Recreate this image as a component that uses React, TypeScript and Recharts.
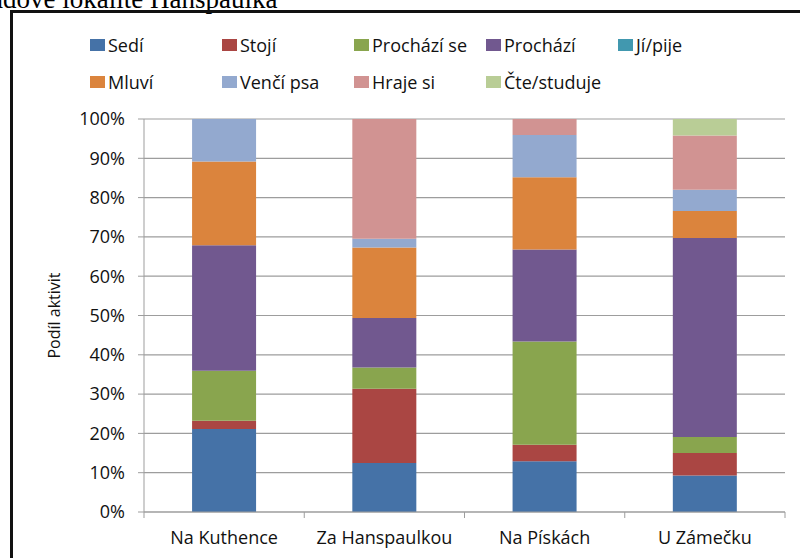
import { Bar, BarChart, CartesianGrid, Label, Legend, XAxis, YAxis } from "recharts";

const categories = ["Na Kuthence", "Za Hanspaulkou", "Na Pískách", "U Zámečku"];

// podíl jednotlivých aktivit v %
const sedi = [21.1, 12.5, 12.9, 9.3];
const stoji = [2.1, 18.9, 4.2, 5.7];
const prochaziSe = [12.7, 5.4, 26.3, 4.1];
const prochazi = [31.9, 12.6, 23.4, 50.6];
const jiPije = [0, 0, 0, 0];
const mluvi = [21.3, 18.0, 18.4, 6.9];
const venciPsa = [10.8, 2.2, 10.7, 5.4];
const hrajeSi = [0, 30.5, 4.1, 13.8];
const cteStuduje = [0, 0, 0, 4.2];

const yTicks = [0, 0.1, 0.2, 0.3, 0.4, 0.5, 0.6, 0.7, 0.8, 0.9, 1];

const series = [
  { key: "sedi", name: "Sedí", values: sedi, color: "#4572A7" },
  { key: "stoji", name: "Stojí", values: stoji, color: "#AA4643" },
  { key: "prochaziSe", name: "Prochází se", values: prochaziSe, color: "#89A54E" },
  { key: "prochazi", name: "Prochází", values: prochazi, color: "#71588F" },
  { key: "jiPije", name: "Jí/pije", values: jiPije, color: "#4198AF" },
  { key: "mluvi", name: "Mluví", values: mluvi, color: "#DB843D" },
  { key: "venciPsa", name: "Venčí psa", values: venciPsa, color: "#93A9CF" },
  { key: "hrajeSi", name: "Hraje si", values: hrajeSi, color: "#D19392" },
  { key: "cteStuduje", name: "Čte/studuje", values: cteStuduje, color: "#B9CD96" },
];

const data = categories.map((name, i) => {
  const row: Record<string, string | number> = { name };
  series.forEach((s) => {
    row[s.key] = s.values[i];
  });
  return row;
});

const FONT = "'Open Sans', sans-serif";
const GRID = "#9d9d9d";
const TICK_SIZE = 6;
const TICK_MARGIN = 13;

// legenda ve dvou řádcích po pěti položkách, v pořadí řad
const LegendGrid = () => (
  <div style={{ position: "relative", width: 800, height: 100, fontFamily: FONT, fontSize: 18 }}>
    {series.map((s, i) => (
      <div
        key={s.key}
        style={{
          position: "absolute",
          left: 90 + (i % 5) * 132,
          top: 33 + Math.floor(i / 5) * 37,
          height: 24,
          display: "flex",
          alignItems: "center",
          whiteSpace: "nowrap",
          color: "#111",
        }}
      >
        <span style={{ display: "inline-block", width: 15, height: 12, background: s.color, marginRight: 3 }} />
        {s.name}
      </div>
    ))}
  </div>
);

// popisek kategorie + svislé značky na hranicích kategorií
const EdgeTick = ({ x, y, payload, index }: any) => {
  const half = payload?.offset ?? 0;
  const top = y - TICK_SIZE - TICK_MARGIN;
  return (
    <g>
      <line x1={x - half} x2={x - half} y1={top} y2={top + TICK_SIZE} stroke={GRID} />
      {index === categories.length - 1 && (
        <line x1={x + half} x2={x + half} y1={top} y2={top + TICK_SIZE} stroke={GRID} />
      )}
      <text x={x} y={y} dy="0.71em" textAnchor="middle" fontFamily={FONT} fontSize={18} fill="#111">
        {payload.value}
      </text>
    </g>
  );
};

export default function App() {
  return (
    <div
      style={{
        position: "fixed",
        top: 0,
        left: 0,
        width: 800,
        height: 558,
        overflow: "hidden",
        background: "#fff",
      }}
    >
      <div
        style={{
          position: "absolute",
          left: -9,
          top: -13,
          fontFamily: "'Liberation Serif', serif",
          fontSize: 27,
          lineHeight: "24px",
          whiteSpace: "nowrap",
          color: "#000",
        }}
      >
        ádové lokalitě Hanspaulka
      </div>
      <div
        style={{
          position: "absolute",
          left: 10,
          top: 10,
          width: 820,
          height: 580,
          border: "3px solid #111",
          boxSizing: "border-box",
        }}
      />
      <div style={{ position: "absolute", left: 0, top: 0 }}>
        <BarChart
          width={800}
          height={558}
          data={data}
          stackOffset="expand"
          barCategoryGap="30%"
          margin={{ top: 119, right: 15, bottom: 16, left: 0 }}
        >
          <CartesianGrid vertical={false} stroke={GRID} strokeWidth={1.2} />
          <XAxis
            dataKey="name"
            height={30}
            axisLine={{ stroke: GRID }}
            tickLine={false}
            tickSize={TICK_SIZE}
            tickMargin={TICK_MARGIN}
            interval={0}
            tick={<EdgeTick />}
          />
          <YAxis
            width={144}
            domain={[0, 1]}
            ticks={yTicks}
            tickFormatter={(v: number) => `${Math.round(v * 100)}%`}
            axisLine={{ stroke: GRID }}
            tickLine={{ stroke: GRID }}
            tickSize={TICK_SIZE}
            tickMargin={TICK_MARGIN}
            tick={{ fontFamily: FONT, fontSize: 18, fill: "#111" }}
          >
            <Label
              value="Podíl aktivit"
              angle={-90}
              position="insideLeft"
              offset={54}
              style={{ textAnchor: "middle", fontFamily: FONT, fontSize: 16, fill: "#111" }}
            />
          </YAxis>
          <Legend
            layout="vertical"
            align="center"
            verticalAlign="middle"
            wrapperStyle={{ position: "absolute", top: 0, left: 0, width: 800, height: 100 }}
            content={<LegendGrid />}
          />
          {series.map((s) => (
            <Bar
              key={s.key}
              dataKey={s.key}
              name={s.name}
              stackId="a"
              fill={s.color}
              isAnimationActive={false}
            />
          ))}
        </BarChart>
      </div>
    </div>
  );
}
